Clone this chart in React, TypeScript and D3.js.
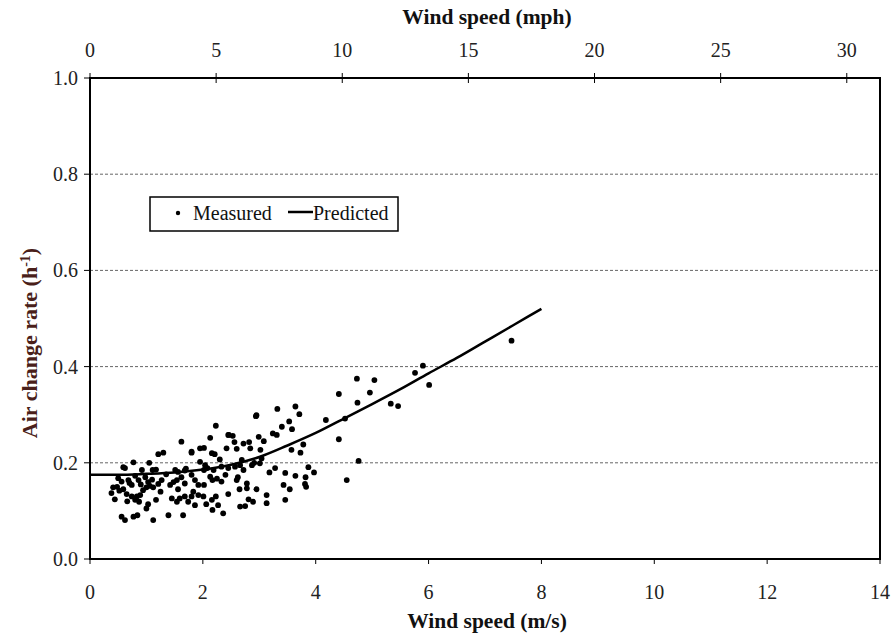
import * as d3 from 'd3';

// Measured points: wind speed (m/s) and air change rate (1/h)
const measuredSpeed = [
  7.47, 5.90, 5.76, 6.01, 4.73, 5.04, 4.96, 4.41, 4.74, 5.33, 5.46, 4.52, 4.18, 4.41, 4.76,
  3.64, 3.71, 3.53, 3.40, 3.58, 3.57, 3.73, 3.78, 3.87, 3.97, 3.46, 3.64, 3.82, 4.55, 3.32,
  2.94, 2.23, 2.13, 2.46, 2.53, 2.56, 2.60, 2.42, 2.72, 2.82, 2.84, 2.99, 3.08, 3.24, 3.31,
  3.02, 2.02, 2.16, 2.21, 2.30, 1.95, 2.04, 2.02, 2.08, 2.19, 2.33, 2.45, 2.57, 2.66, 2.69,
  2.72, 2.87, 2.91, 3.01, 3.04, 3.28, 3.43, 3.54, 3.81, 3.83, 3.46, 2.13, 2.17, 2.25, 2.33,
  2.02, 2.60, 2.65, 2.78, 2.78, 2.95, 2.45, 2.23, 2.01, 2.16, 2.27, 2.06, 2.81, 2.89, 3.13,
  3.13, 2.66, 2.75, 2.17, 2.36, 1.62, 1.21, 1.30, 1.80, 1.95, 0.77, 1.05, 0.92, 1.11, 1.17,
  0.62, 1.51, 1.56, 1.68, 0.50, 0.56, 0.68, 0.74, 0.41, 0.38, 0.52, 0.59, 0.65, 0.74, 0.83,
  0.89, 0.94, 1.00, 1.06, 1.12, 1.21, 1.27, 0.86, 0.80, 0.44, 0.80, 0.87, 1.03, 1.17, 1.00,
  0.56, 0.62, 0.77, 0.84, 1.12, 1.39, 1.65, 1.54, 1.62, 1.68, 1.80, 1.86, 1.92, 1.56, 1.45,
  1.59, 1.68, 1.80, 1.92, 1.54, 1.74, 1.86, 1.42, 1.83, 1.80, 2.45, 2.95, 0.59, 1.03, 0.70,
  0.98, 1.35, 1.25, 0.48, 0.90, 1.48, 1.70, 2.40, 2.62, 3.18, 1.10, 0.66
];
const measuredRate = [
  0.454, 0.402, 0.387, 0.362, 0.375, 0.372, 0.346, 0.343, 0.325, 0.323, 0.318, 0.292, 0.289, 0.249, 0.204,
  0.317, 0.301, 0.286, 0.275, 0.270, 0.227, 0.221, 0.238, 0.191, 0.180, 0.179, 0.173, 0.170, 0.164, 0.312,
  0.297, 0.277, 0.252, 0.258, 0.256, 0.243, 0.229, 0.230, 0.240, 0.243, 0.230, 0.254, 0.245, 0.261, 0.258,
  0.227, 0.231, 0.220, 0.218, 0.207, 0.202, 0.195, 0.185, 0.189, 0.185, 0.192, 0.189, 0.192, 0.195, 0.206,
  0.185, 0.195, 0.200, 0.199, 0.209, 0.189, 0.154, 0.145, 0.156, 0.150, 0.123, 0.171, 0.164, 0.167, 0.161,
  0.154, 0.164, 0.145, 0.157, 0.147, 0.145, 0.135, 0.130, 0.130, 0.123, 0.112, 0.114, 0.124, 0.119, 0.133,
  0.116, 0.109, 0.110, 0.102, 0.095, 0.244, 0.218, 0.221, 0.221, 0.230, 0.201, 0.200, 0.185, 0.185, 0.186,
  0.189, 0.185, 0.181, 0.184, 0.168, 0.161, 0.164, 0.154, 0.149, 0.137, 0.142, 0.145, 0.135, 0.130, 0.130,
  0.133, 0.143, 0.149, 0.152, 0.149, 0.156, 0.164, 0.164, 0.173, 0.124, 0.123, 0.119, 0.114, 0.123, 0.105,
  0.088, 0.081, 0.088, 0.091, 0.081, 0.091, 0.091, 0.164, 0.170, 0.157, 0.175, 0.164, 0.154, 0.145, 0.126,
  0.126, 0.130, 0.130, 0.133, 0.119, 0.119, 0.112, 0.154, 0.140, 0.223, 0.258, 0.299, 0.191, 0.160, 0.158,
  0.170, 0.176, 0.140, 0.150, 0.155, 0.160, 0.188, 0.175, 0.170, 0.180, 0.165, 0.120
];

// Predicted curve
const predictedSpeed = [0, 0.5, 1, 1.5, 2, 2.5, 3, 3.5, 4, 4.5, 5, 5.5, 6, 6.5, 7, 7.5, 8];
const predictedRate = [0.175, 0.175, 0.177, 0.18, 0.186, 0.196, 0.212, 0.236, 0.262, 0.292, 0.322, 0.353, 0.386, 0.418, 0.452, 0.486, 0.52];

const msTicks = [0, 2, 4, 6, 8, 10, 12, 14];
const mphTicks = [0, 5, 10, 15, 20, 25, 30];
const rateTicks = [0, 0.2, 0.4, 0.6, 0.8, 1.0];
const gridRates = [0.2, 0.4, 0.6, 0.8];

const W = 893;
const H = 633;
const left = 90, right = 880, top = 78, bottom = 559;
const MPH_TO_MS = 0.44704;
const font = '"Liberation Serif", "Times New Roman", serif';

export default function App() {
  const x = d3.scaleLinear().domain([0, 14]).range([left, right]);
  const xMph = d3.scaleLinear().domain([0, 14 / MPH_TO_MS]).range([left, right]);
  const y = d3.scaleLinear().domain([0, 1]).range([bottom, top]);

  const line = d3.line<number>()
    .x((_, i) => x(predictedSpeed[i]))
    .y(d => y(d))
    .curve(d3.curveMonotoneX);

  return (
    <svg width={W} height={H} style={{ position: 'absolute', left: 0, top: 0, background: '#fff' }}
      fontFamily={font}>
      {/* gridlines */}
      {gridRates.map(r => (
        <line key={r} x1={left} x2={right} y1={y(r)} y2={y(r)}
          stroke="#666" strokeWidth={1} strokeDasharray="3,2" />
      ))}

      {/* y ticks and labels */}
      {rateTicks.map(r => (
        <g key={r}>
          <line x1={left - 6} x2={left} y1={y(r)} y2={y(r)} stroke="#000" strokeWidth={1} />
          <text x={78} y={y(r)} dy="0.35em" textAnchor="end" fontSize={20} fill="#222">
            {d3.format('.1f')(r)}
          </text>
        </g>
      ))}

      {/* bottom ticks */}
      {msTicks.map(t => (
        <g key={t}>
          <line x1={x(t)} x2={x(t)} y1={bottom} y2={bottom + 5} stroke="#000" strokeWidth={1} />
          <text x={x(t)} y={599} textAnchor="middle" fontSize={20} fill="#222">{t}</text>
        </g>
      ))}

      {/* top ticks */}
      {mphTicks.map(t => (
        <g key={t}>
          <line x1={xMph(t)} x2={xMph(t)} y1={top - 5} y2={top + 5} stroke="#000" strokeWidth={1} />
          <text x={xMph(t)} y={57} textAnchor="middle" fontSize={20} fill="#222">{t}</text>
        </g>
      ))}

      {/* frame */}
      <rect x={left} y={top} width={right - left} height={bottom - top}
        fill="none" stroke="#000" strokeWidth={2} />

      {/* measured points */}
      {measuredSpeed.map((s, i) => (
        <circle key={i} cx={x(s)} cy={y(measuredRate[i])} r={2.9} fill="#000" />
      ))}

      {/* predicted */}
      <path d={line(predictedRate) || ''} fill="none" stroke="#000" strokeWidth={2.5} />

      {/* legend */}
      <rect x={150} y={197} width={248} height={34} fill="#fff" stroke="#000" strokeWidth={1.5} />
      <circle cx={178} cy={213} r={2.2} fill="#000" />
      <text x={193} y={220} fontSize={20} fill="#111">Measured</text>
      <line x1={288} x2={313} y1={212} y2={212} stroke="#000" strokeWidth={2.5} />
      <text x={313} y={220} fontSize={20} fill="#111">Predicted</text>

      {/* axis titles */}
      <text x={487} y={24} textAnchor="middle" fontSize={21.5} fontWeight="bold" fill="#111">
        Wind speed (mph)
      </text>
      <text x={487} y={628} textAnchor="middle" fontSize={21.5} fontWeight="bold" fill="#111">
        Wind speed (m/s)
      </text>
      <text transform={`translate(37,343) rotate(-90)`} textAnchor="middle"
        fontSize={22} fontWeight="bold" fill="#4a1f1a">
        Air change rate (h<tspan dy={-7} fontSize={14}>-1</tspan><tspan dy={7}>)</tspan>
      </text>
    </svg>
  );
}
